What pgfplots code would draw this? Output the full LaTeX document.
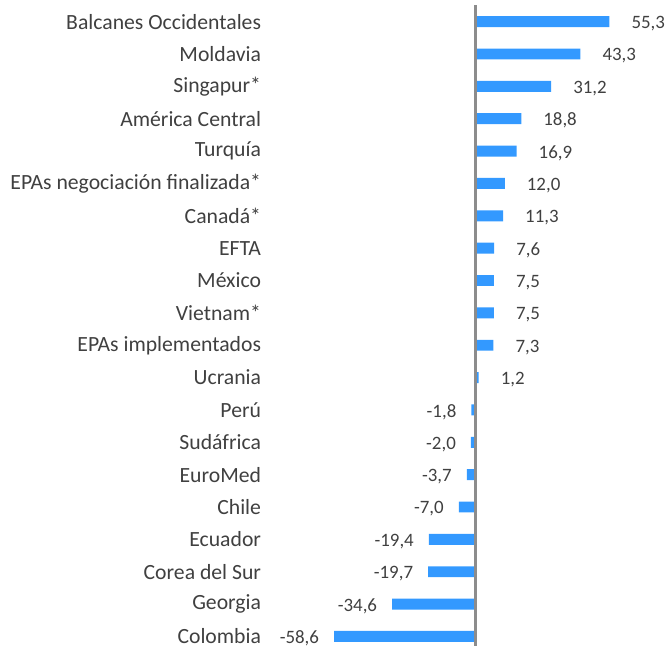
\documentclass[border=0pt]{standalone}
\usepackage{fontspec}
\setmainfont{Carlito}
\usepackage{pgfplots}
\pgfplotsset{compat=1.18}
\definecolor{barBlue}{HTML}{3399FF}
\definecolor{txt}{HTML}{404040}
\definecolor{zeroLine}{HTML}{8C8C8C}
\begin{document}
\begin{tikzpicture}
\begin{axis}[xbar, bar width=11pt, bar shift=0pt,
  scale only axis, width=403pt, height=643.5pt,
  xmin=-86.4, xmax=79.4, ymin=-0.5, ymax=19.28, y dir=reverse,
  axis line style={draw=none}, tick style={draw=none},
  xtick=\empty, extra x ticks={0}, extra x tick labels={},
  extra x tick style={grid=major, major grid style={draw=zeroLine, line width=3pt}},
  axis on top, clip=false,
  ytick={0,...,19},
  yticklabels={Balcanes Occidentales,Moldavia,Singapur*,América Central,Turquía,EPAs negociación finalizada*,Canadá*,EFTA,México,Vietnam*,EPAs implementados,Ucrania,Perú,Sudáfrica,EuroMed,Chile,Ecuador,Corea del Sur,Georgia,Colombia},
  yticklabel style={font=\fontsize{21.8}{25}\selectfont, text=txt, inner xsep=1.5pt},
  nodes near coords, point meta=explicit symbolic,
  every node near coord/.append style={font=\fontsize{19}{23}\selectfont, text=txt, inner xsep=0pt, yshift=-2pt},
]
\addplot[fill=barBlue, draw=none,
  every node near coord/.append style={anchor=west, xshift=22pt}] table[x=v, y=i, meta=l] {
i v l
0 55.3 55,3
1 43.3 43,3
2 31.2 31,2
3 18.8 18,8
4 16.9 16,9
5 12.0 12,0
6 11.3 11,3
7 7.6 7,6
8 7.5 7,5
9 7.5 7,5
10 7.3 7,3
11 1.2 1,2
};
\addplot[fill=barBlue, draw=none,
  every node near coord/.append style={anchor=east, xshift=-15pt}] table[x=v, y=i, meta=l] {
i v l
12 -1.8 -1,8
13 -2.0 -2,0
14 -3.7 -3,7
15 -7.0 -7,0
16 -19.4 -19,4
17 -19.7 -19,7
18 -34.6 -34,6
19 -58.6 -58,6
};
\end{axis}
\path ([xshift=-9pt,yshift=4pt]current bounding box.north west);
\end{tikzpicture}
\end{document}
